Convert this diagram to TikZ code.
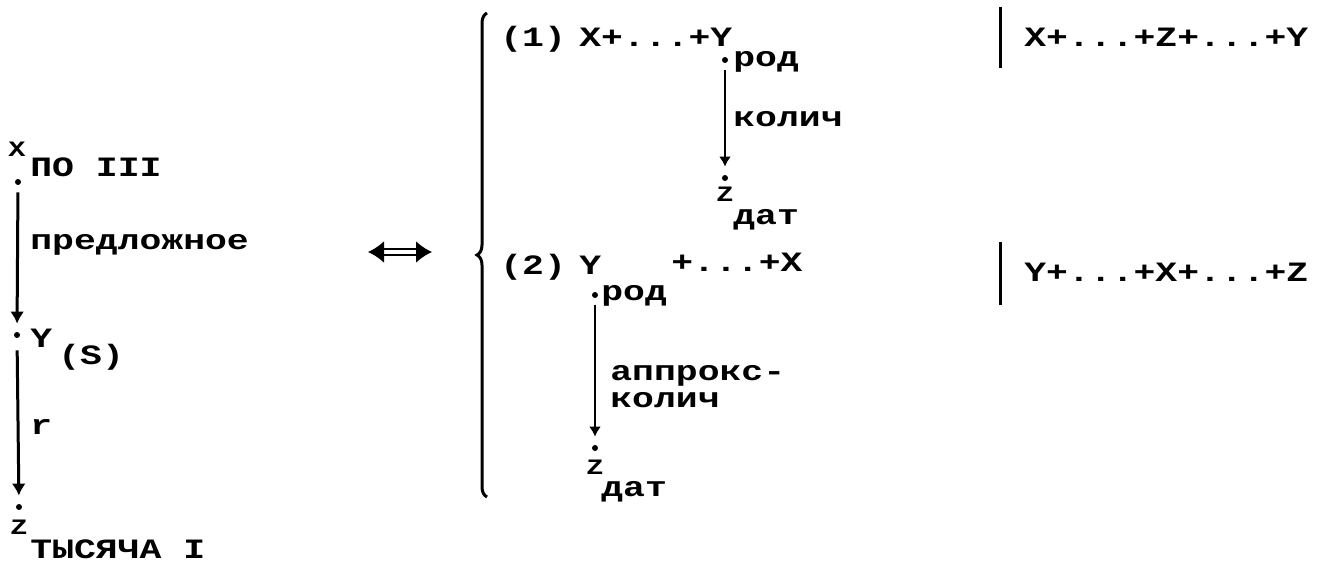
\documentclass[tikz,border=0pt]{standalone}
\usepackage{fontspec}
\setmainfont{Liberation Mono}[FakeStretch=1.3]
\usetikzlibrary{arrows.meta,decorations.pathreplacing}
\tikzset{
  txt/.style={anchor=base west,inner sep=0pt,font=\bfseries\fontsize{14}{16}\selectfont},
  sml/.style={txt,font=\bfseries\fontsize{11}{13}\selectfont},
  pt/.style={circle,fill,inner sep=0pt,minimum size=3pt},
  dep/.style={-{Latex[length=5pt,width=6pt]},line width=1pt,shorten <=3.5pt,shorten >=4pt},
  bigdep/.style={dep,-{Latex[length=6pt,width=7pt]},line width=1.5pt},
  equiv/.style={{Latex[length=8pt,width=11pt]}-{Latex[length=8pt,width=11pt]},double,double distance=2pt,line width=1.1pt},
  brc/.style={decorate,decoration={brace,amplitude=5pt},line width=1.5pt},
  bar/.style={line width=1.5pt}
}
\begin{document}
\begin{tikzpicture}[x=0.5pt,y=-0.5pt]
  \useasboundingbox (0,0) rectangle (1318,566);
  \node[pt] (lx) at (18,182) {};
  \node[pt] (ly) at (17,335) {};
  \node[pt] (lz) at (19,507) {};
  \node[sml] (lxl) at (8,157) {X};
  \node[txt] (lxs) at (30,177) {ПО III};
  \node[txt] (lxy) at (30,250) {предложное};
  \node[txt] (lyl) at (30,348) {Y};
  \node[txt] (lys) at (58,365) {(S)};
  \node[txt] (lyz) at (30,435) {r};
  \node[sml] (lzl) at (10,535) {Z};
  \node[txt] (lzs) at (30,559) {ТЫСЯЧА I};
  \draw[bigdep] (lx) -- (ly);
  \draw[bigdep,shorten <=6pt] (ly) -- (lz);
  \coordinate (eqa) at (368,252);
  \coordinate (eqb) at (432,252);
  \draw[equiv] (eqa) -- (eqb);
  \coordinate (brb) at (487,497);
  \coordinate (brt) at (487,13);
  \draw[brc] (brb) -- (brt);
  \node[txt] (n1) at (500,47) {(1)};
  \node[txt] (e1) at (579,47) {X+...+Y};
  \node[pt] (ay) at (725,60) {};
  \node[txt] (ays) at (733,67) {род};
  \node[txt] (ayz) at (733,127) {колич};
  \node[pt] (az) at (725,178) {};
  \node[sml] (azl) at (716,202) {Z};
  \node[txt] (azs) at (733,225) {дат};
  \draw[dep] (ay) -- (az);
  \node[txt] (n2) at (500,275) {(2)};
  \node[txt] (byl) at (579,275) {Y};
  \node[txt] (e2) at (671,272) {+...+X};
  \node[pt] (by) at (595,295) {};
  \node[txt] (bys) at (601,301) {род};
  \node[txt] (byz1) at (610,381) {аппрокс-};
  \node[txt] (byz2) at (610,408) {колич};
  \node[pt] (bz) at (595,448) {};
  \node[sml] (bzl) at (586,475) {Z};
  \node[txt] (bzs) at (601,497) {дат};
  \draw[dep] (by) -- (bz);
  \coordinate (r1a) at (1000,7);
  \coordinate (r1b) at (1000,68);
  \coordinate (r2a) at (1000,242);
  \coordinate (r2b) at (1000,305);
  \draw[bar] (r1a) -- (r1b);
  \draw[bar] (r2a) -- (r2b);
  \node[txt] (r1) at (1024,47) {X+...+Z+...+Y};
  \node[txt] (r2) at (1024,282) {Y+...+X+...+Z};
\end{tikzpicture}
\end{document}
